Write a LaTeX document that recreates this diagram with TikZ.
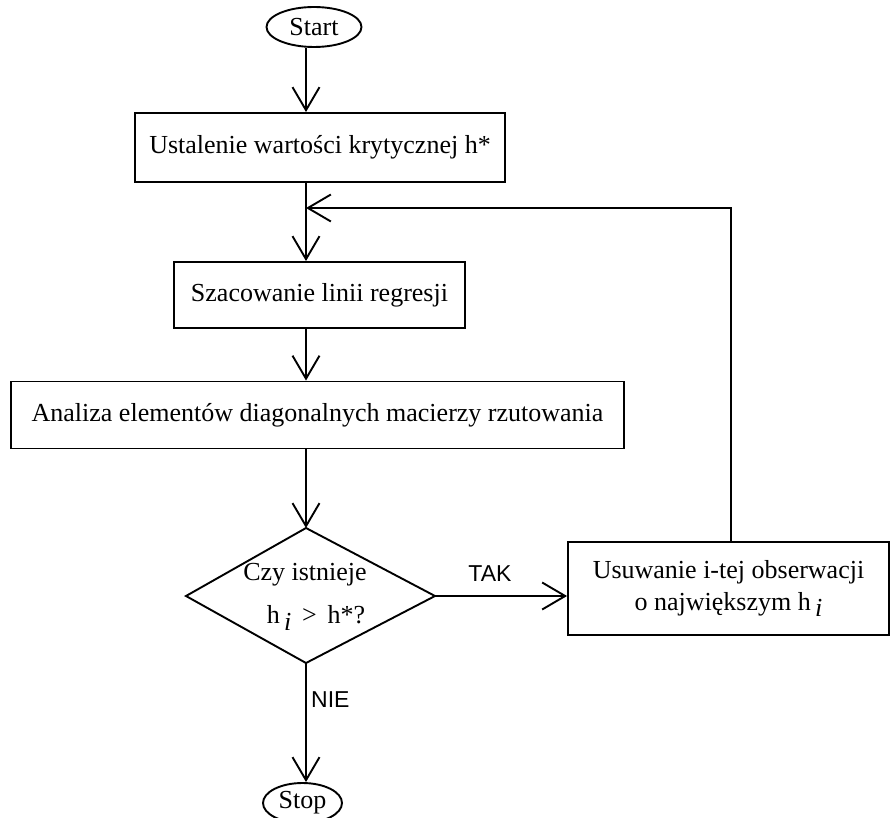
\documentclass[tikz,border=0pt]{standalone}
\usepackage{fontspec}
\setmainfont{Liberation Serif}
\newfontfamily\lsans{Liberation Sans}
\usetikzlibrary{arrows.meta,shapes.geometric}
\begin{document}
\begin{tikzpicture}[x=1pt,y=-1pt,
  every node/.style={font=\fontsize{26}{32}\selectfont},
  line/.style={line width=1.9pt},
  arr/.style={line width=1.9pt, -{Straight Barb[length=23pt,width=27pt]}},
  proc/.style={draw, line width=1.9pt, rectangle, inner sep=0pt},
  term/.style={draw, line width=1.9pt, ellipse, inner sep=0pt},
  lab/.style={font=\lsans\fontsize{23}{25}\selectfont, inner sep=0pt}]
\useasboundingbox (0,0) rectangle (891,818);
\coordinate (ax) at (306,0);
\coordinate (fx) at (731,0);
\coordinate (fb) at (306,208);

\node[term, minimum width=95pt, minimum height=40pt] (start) at (314,27) {Start};
\node[proc, minimum width=370pt, minimum height=69pt] (b1) at (320,147.5)
  {Ustalenie wartości krytycznej h*};
\node[proc, minimum width=291pt, minimum height=66pt] (b2) at (319.5,295) {Szacowanie linii regresji};
\node[proc, minimum width=613pt, minimum height=67pt] (b3) at (317.5,415)
  {Analiza elementów diagonalnych macierzy rzutowania};
\coordinate (dt) at (306,528);
\coordinate (dl) at (186,596);
\coordinate (dr) at (435,596);
\coordinate (db) at (306,663);
\draw[line, line join=miter] (dt) -- (dr) -- (db) -- (dl) -- cycle;
\node[inner sep=0pt] (q1) at (305,575) {Czy istnieje};
\node[inner sep=0pt] (q2) at (316,618) {h\,\raisebox{-0.55ex}{\itshape i}\, > \,h*?};
\node[proc, minimum width=321pt, minimum height=93pt, align=center] (b4) at (728.5,588.5)
  {Usuwanie i-tej obserwacji\\o największym h\,\raisebox{-0.55ex}{\itshape i}};
\node[term, minimum width=79pt, minimum height=40pt] (stop) at (302.5,803) {Stop};
\node[lab] (tak) at (490,574) {TAK};
\node[lab, anchor=west] (nie) at (311,700) {NIE};

\draw[arr] (start.south -| ax) -- (b1.north -| ax);
\draw[line] (b1.south -| ax) -- (fb);
\draw[arr] (fb) -- (b2.north -| ax);
\draw[arr] (b2.south -| ax) -- (b3.north -| ax);
\draw[arr] (b3.south -| ax) -- (dt);
\draw[arr] (dr) -- (dr -| b4.west);
\draw[arr] (b4.north -| fx) |- (fb);
\draw[arr] (db) -- (stop.north -| ax);
\end{tikzpicture}
\end{document}
